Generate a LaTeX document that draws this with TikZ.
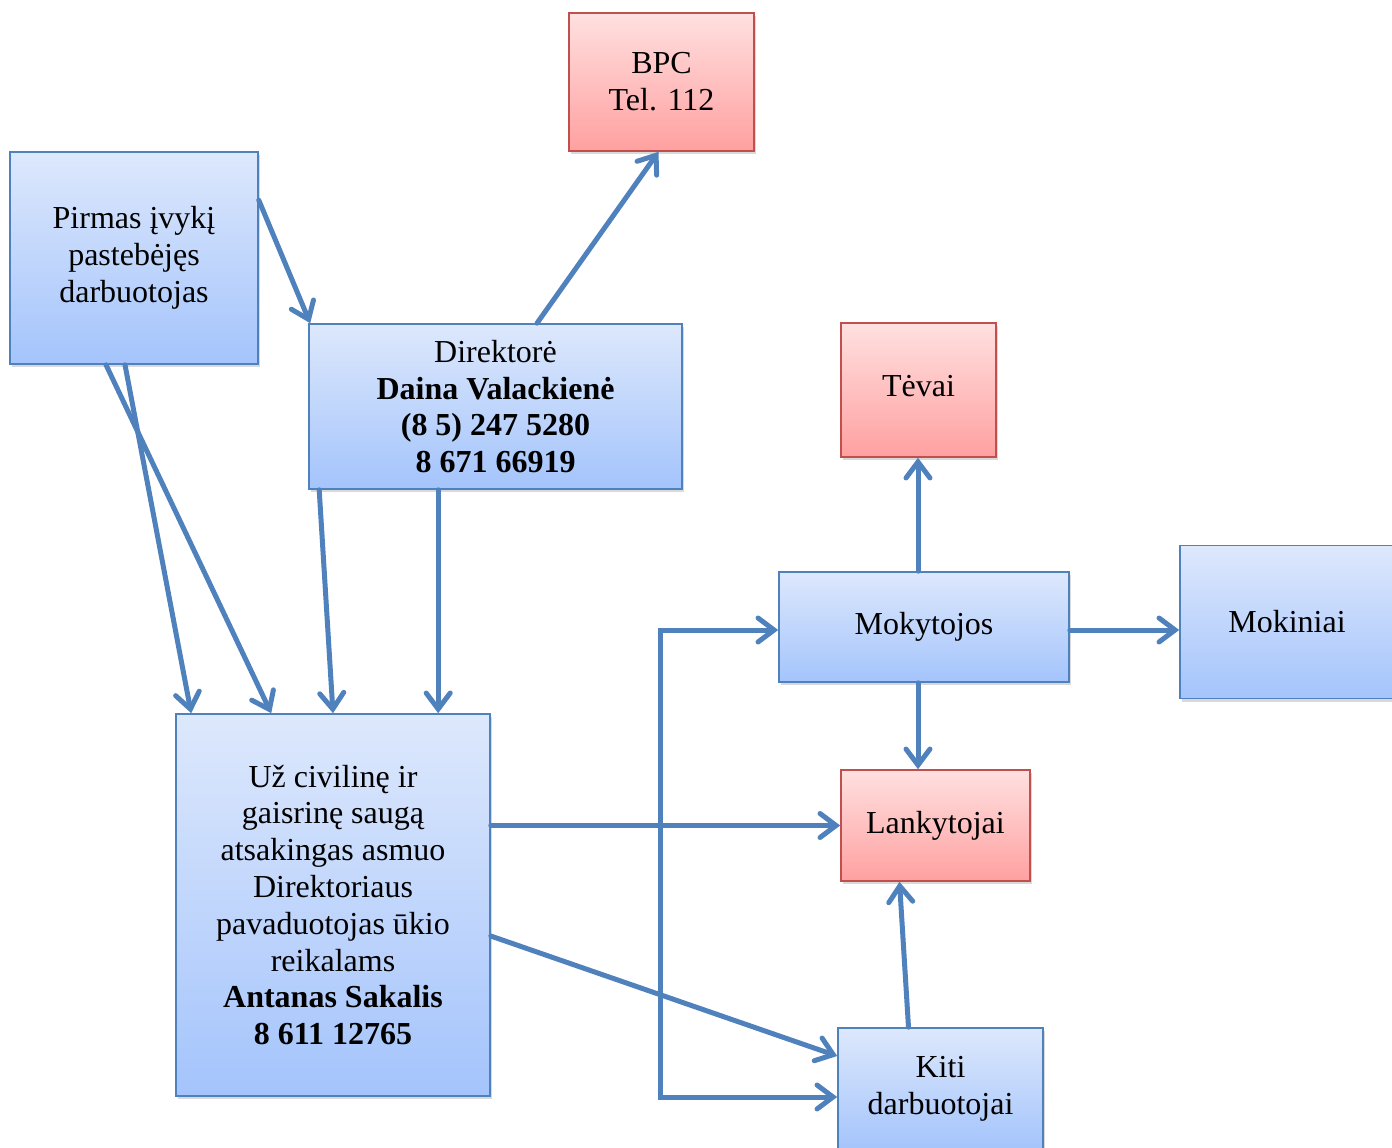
\documentclass[tikz,border=0pt]{standalone}
\usepackage{fontspec}
\setmainfont{Liberation Serif}
\usepackage{xcolor}
\usepackage{tikz}
\usetikzlibrary{arrows.meta,shadows}

\definecolor{arrblue}{RGB}{79,129,189}
\definecolor{blktop}{RGB}{221,232,252}
\definecolor{blkbot}{RGB}{164,196,252}
\definecolor{redtop}{RGB}{255,224,224}
\definecolor{redbot}{RGB}{255,160,160}
\definecolor{redline}{RGB}{192,80,77}

\begin{document}
\begin{tikzpicture}[x=0.5pt,y=-0.5pt]
  \tikzstyle{blk}=[draw=arrblue,line width=0.8pt,rectangle,align=center,top color=blktop,bottom color=blkbot,
    drop shadow={opacity=0.3,shadow xshift=1pt,shadow yshift=-1.5pt},font=\fontsize{16}{18.4}\selectfont]
  \tikzstyle{redblk}=[blk,draw=redline,top color=redtop,bottom color=redbot]
  \tikzstyle{arr}=[-{Straight Barb[length=8pt,width=12pt,line cap=round]},line width=2.5pt,draw=arrblue,line cap=round]

  \useasboundingbox (0,0) rectangle (1392,1147);

  % Left column
  \node[blk,minimum width=124pt,minimum height=106pt] (pirmas) at (134,258) {Pirmas įvykį\\pastebėjęs\\darbuotojas};
  \node[blk,minimum width=186.5pt,minimum height=82.5pt] (direktore) at (495.5,406.5)
    {Direktorė\\\textbf{Daina Valackienė}\\\textbf{(8 5) 247 5280}\\\textbf{8 671 66919}};
  \node[redblk,minimum width=92.5pt,minimum height=69pt] (bpc) at (661.5,82) {BPC\\Tel. 112};
  \node[blk,minimum width=157pt,minimum height=191pt] (atsakingas) at (333,905)
    {Už civilinę ir\\gaisrinę saugą\\atsakingas asmuo\\Direktoriaus\\pavaduotojas ūkio\\reikalams\\\textbf{Antanas Sakalis}\\\textbf{8 611 12765}};

  % Right column
  \node[redblk,minimum width=77.5pt,minimum height=67pt] (tevai) at (918.5,390) {\raisebox{4.5pt}{Tėvai}};
  \node[blk,minimum width=145pt,minimum height=55pt] (mokytojos) at (924,627) {Mokytojos};
  \node[blk,minimum width=107pt,minimum height=76.5pt] (mokiniai) at (1287,622) {Mokiniai};
  \node[redblk,minimum width=94.5pt,minimum height=55.5pt] (lankytojai) at (935.5,825.5) {Lankytojai};
  \node[blk,minimum width=102.5pt,minimum height=61pt] (kiti) at (940.5,1089) {Kiti\\darbuotojai};

  % Arrows from the top boxes
  \draw[arr] ([yshift=-24.5pt]pirmas.north east) -- ([xshift=1pt]direktore.north west);
  \draw[arr] ([xshift=20.75pt]direktore.north) -- ([xshift=-1.5pt]bpc.south);
  \draw[arr] ([xshift=-14pt]pirmas.south) -- ([xshift=48pt]atsakingas.north west);
  \draw[arr] ([xshift=-4.5pt]pirmas.south) -- ([xshift=8pt]atsakingas.north west);
  \draw[arr] ([xshift=5.5pt]direktore.south west) -- (atsakingas.north);
  \draw[arr] ([xshift=65pt]direktore.south west) coordinate (d2) -- (d2 |- atsakingas.north);

  % Arrows on the right
  \draw[arr] ([xshift=-3pt]mokytojos.north) coordinate (m1) -- (m1 |- tevai.south);
  \draw[arr] ([yshift=-1.5pt]mokytojos.east) coordinate (m3) -- (m3 -| mokiniai.west);
  \draw[arr] ([xshift=-3pt]mokytojos.south) coordinate (m2) -- (m2 |- lankytojai.north);
  \draw[arr] ([xshift=-16pt]kiti.north) -- ([xshift=-18pt]lankytojai.south);

  % Arrows from the safety officer
  \draw[arr] (lankytojai.west -| atsakingas.east) -- (lankytojai.west);
  \draw[arr] ([yshift=-15.5pt]atsakingas.east) -- ([yshift=16.5pt]kiti.west);
  \coordinate (bus) at (660,827);
  \draw[arr] (bus) |- ([yshift=-1.5pt]mokytojos.west);
  \draw[arr] (bus) |- ([yshift=-4pt]kiti.west);
\end{tikzpicture}
\end{document}
